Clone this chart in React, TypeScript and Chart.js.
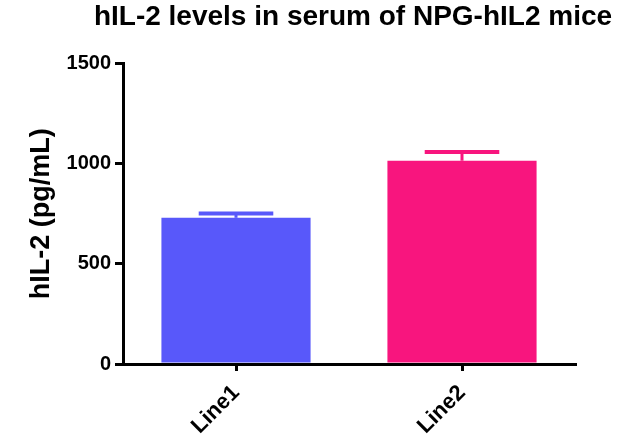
import React, { useEffect, useRef } from "react";
import { Chart, registerables } from "chart.js";

Chart.register(...registerables);

const categories = ["Line1", "Line2"];
const means = [730, 1015];
const errUpper = [752, 1058];
const barColors = ["#5858FA", "#F8157E"];
const yTicks = [0, 500, 1000, 1500];

// Let the title (laid out over the plot area) draw without being squeezed to the plot width.
const titleWidenPlugin = {
  id: "titleWiden",
  beforeDraw(chart: any) {
    const tb = chart.titleBlock;
    if (!tb || tb.__widened) return;
    tb.__widened = true;
    const orig = tb.draw;
    tb.draw = function (...args: any[]) {
      const l = this.left;
      const r = this.right;
      this.left = l - 96;
      this.right = r + 104;
      try {
        return orig.apply(this, args);
      } finally {
        this.left = l;
        this.right = r;
      }
    };
  },
};

const errorBarPlugin = {
  id: "errorBars",
  afterDatasetsDraw(chart: any) {
    const meta = chart.getDatasetMeta(0);
    const y = chart.scales.y;
    const ctx = chart.ctx;
    ctx.save();
    meta.data.forEach((bar: any, i: number) => {
      const top = y.getPixelForValue(errUpper[i]);
      const base = y.getPixelForValue(means[i]);
      const half = bar.width / 4;
      ctx.strokeStyle = barColors[i];
      ctx.lineWidth = 3;
      ctx.beginPath();
      ctx.moveTo(bar.x, base);
      ctx.lineTo(bar.x, top);
      ctx.stroke();
      ctx.lineWidth = 4;
      ctx.beginPath();
      ctx.moveTo(bar.x - half, top);
      ctx.lineTo(bar.x + half, top);
      ctx.stroke();
    });
    ctx.restore();
  },
};

export default function App() {
  const ref = useRef<HTMLCanvasElement>(null);
  useEffect(() => {
    document.body.style.margin = "0";
    const font = "'Liberation Sans', Arial, sans-serif";
    const chart = new Chart(ref.current!, {
      type: "bar",
      data: {
        labels: categories,
        datasets: [
          {
            data: means,
            backgroundColor: barColors,
            borderWidth: 0,
            categoryPercentage: 1,
            barPercentage: 0.66,
          },
        ],
      },
      options: {
        animation: false,
        responsive: false,
        layout: { padding: { left: 0, right: 63, top: 0, bottom: 0 } },
        plugins: {
          legend: { display: false },
          tooltip: { enabled: false },
          title: {
            display: true,
            fullSize: false,
            text: "hIL-2 levels in serum of NPG-hIL2 mice",
            color: "#000",
            font: { family: font, size: 28, weight: "bold" },
            padding: { top: 0, bottom: 30 },
          },
        },
        scales: {
          x: {
            offset: true,
            border: { display: true, color: "#000", width: 3 },
            grid: { display: true, drawOnChartArea: false, color: "#000", lineWidth: 3, tickLength: 7, offset: false },
            ticks: {
              color: "#000",
              font: { family: font, size: 22, weight: "bold" },
              maxRotation: 45,
              minRotation: 45,
              padding: 9,
            },
            afterFit(scale: any) {
              scale.height = 81;
            },
          },
          y: {
            min: 0,
            max: 1500,
            afterBuildTicks(scale: any) {
              scale.ticks = yTicks.map((v) => ({ value: v }));
            },
            border: { display: true, color: "#000", width: 3 },
            grid: { display: true, drawOnChartArea: false, color: "#000", lineWidth: 3, tickLength: 8 },
            ticks: {
              color: "#000",
              font: { family: font, size: 20, weight: "bold" },
              padding: 4,
              callback: (v: any) => String(v),
            },
            title: {
              display: true,
              text: "hIL-2 (pg/mL)",
              color: "#000",
              font: { family: font, size: 27, weight: "bold" },
              padding: { top: 25, bottom: 0 },
            },
            afterFit(scale: any) {
              scale.width = 123;
            },
          },
        },
      },
      plugins: [errorBarPlugin, titleWidenPlugin],
    });
    return () => chart.destroy();
  }, []);
  return <canvas ref={ref} width={638} height={445} style={{ display: "block" }} />;
}
